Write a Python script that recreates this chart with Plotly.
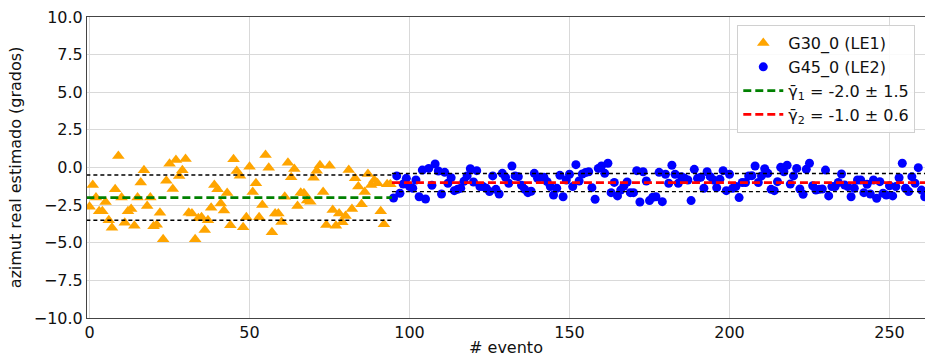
import plotly.graph_objects as go

# Estimated azimuth per event, detector LE1 (G30_0), events 0..94
le1_values = [
    -2.6, -1.16, -2.0, -2.9, -2.9, -2.3, -3.5, -4.0, -1.45, 0.76,
    -2.0, -3.67, -2.9, -2.76, -3.87, -2.0, -1.0, -0.19, -2.56, -2.0,
    -3.9, -3.8, -3.0, -4.77, -0.88, 0.25, -1.43, 0.5, -0.56, -0.19,
    0.56, -3.0, -3.05, -4.77, -3.38, -3.3, -4.15, -3.5, -2.67, -1.16,
    -1.45, -2.4, -2.85, -1.7, -3.84, 0.54, -0.23, -0.54, -3.97, -3.3,
    0.05, -1.63, -1.05, -3.3, -2.49, 0.83, -0.01, -4.31, -3.05, -3.05,
    -3.62, -1.94, 0.32, -0.65, -0.1, -2.56, -1.67, -1.71, -2.2, -2.27,
    -0.68, -0.21, 0.15, -1.63, -3.82, 0.12, -2.82, -3.87, -3.05, -3.64,
    -3.22, -0.17, -2.76, -0.72, -1.27, -2.45, -1.63, -0.43, -1.16, -0.83,
    -1.05, -2.91, -3.77, -1.12, -1.12,
]

# Estimated azimuth per event, detector LE2 (G45_0), events 95..261
le2_values = [
    -2.03, -0.56, -1.71, -1.1, -0.72, -1.27, -1.38, -0.83, -1.94, -0.17,
    -2.09, -0.06, -1.18, 0.23, -0.23, -1.76, -0.32, -1.05, -0.68, -1.54,
    -1.45, -1.38, -0.92, -0.56, -0.08, -0.96, -0.21, -1.27, -1.27, -1.38,
    -1.6, -0.56, -1.45, -1.76, -0.39, -0.65, -1.05, 0.1, -0.56, -0.61,
    -1.18, -1.45, -1.67, -1.58, -0.39, -0.72, -0.65, -0.65, -0.94, -1.27,
    -1.83, -1.38, -0.52, -1.94, -0.83, -0.45, -1.27, 0.19, -0.9, -0.43,
    -0.34, -0.28, -1.34, -2.11, -0.06, 0.1, -0.39, 0.28, -1.67, -0.99,
    -1.89, -1.5, -1.23, -0.96, -1.67, -1.67, -0.21, -2.29, -0.28, -0.9,
    -2.2, -1.98, -1.94, -0.32, -2.27, -0.45, -1.05, 0.15, -0.45, -1.05,
    -0.61, -0.72, -0.83, -2.2, -0.12, -0.72, -0.65, -1.38, -0.28, -0.61,
    -0.83, -1.34, -0.78, -0.21, -1.54, -0.45, -1.38, -1.27, -2.0, -1.0,
    -1.0, -0.56, -0.54, 0.1, -1.0, -0.56, -0.08, -0.39, -1.45, -1.54,
    -0.94, 0.01, -0.28, 0.15, -1.1, -0.56, -0.06, -1.43, -1.78, -0.12,
    0.28, -1.21, -1.5, -1.45, -1.43, -0.17, -1.89, -1.27, -1.27, -1.0,
    -0.43, -1.16, -1.27, -1.94, -1.38, -0.83, -0.83, -1.67, -1.12, -1.76,
    -0.83, -2.05, -0.94, -1.71, -1.83, -1.21, -1.89, -1.27, -0.68, 0.28,
    -1.38, -1.6, -0.61, -1.05, -0.01, -1.5, -1.94,
]

le1_events = list(range(0, len(le1_values)))
le2_events = list(range(len(le1_values), len(le1_values) + len(le2_values)))

series_names = ["G30_0 (LE1)", "G45_0 (LE2)"]
mean_values = [-2.0, -1.0]
std_values = [1.5, 0.6]
# event span covered by each mean/std band
band_spans = [(-1.0, 94.5), (94.5, 262.0)]

x_ticks = [0, 50, 100, 150, 200, 250]
y_ticks = [-10.0, -7.5, -5.0, -2.5, 0.0, 2.5, 5.0, 7.5, 10.0]

FONT = "DejaVu Sans"
fig = go.Figure()

fig.add_trace(go.Scatter(
    x=le1_events, y=le1_values, mode="markers", name=series_names[0],
    marker=dict(symbol="triangle-up", size=11, color="#FFA500", line=dict(width=0)),
))
fig.add_trace(go.Scatter(
    x=le2_events, y=le2_values, mode="markers", name=series_names[1],
    marker=dict(symbol="circle", size=9, color="#0000FF", line=dict(width=0)),
))

mean_colors = ["#008000", "#FF0000"]
for i, (m, s) in enumerate(zip(mean_values, std_values)):
    x0, x1 = band_spans[i]
    for y in (m + s, m - s):
        fig.add_trace(go.Scatter(
            x=[x0, x1], y=[y, y], mode="lines", showlegend=False,
            line=dict(color="black", width=1.4, dash="4px,3px"),
            hoverinfo="skip",
        ))
    fig.add_trace(go.Scatter(
        x=[x0, x1], y=[m, m], mode="lines",
        name=f"γ\u0304<sub>{i + 1}</sub> = {m:.1f} ± {s:.1f}",
        line=dict(color=mean_colors[i], width=2.8, dash="8px,4px"),
    ))

fig.update_layout(
    width=925, height=357,
    margin=dict(l=87, r=0, t=17, b=39, autoexpand=False),
    paper_bgcolor="white", plot_bgcolor="white",
    font=dict(family=FONT, size=16, color="#111"),
    showlegend=True,
    legend=dict(
        x=0.776, y=0.973, xanchor="left", yanchor="top",
        bgcolor="rgba(255,255,255,0.85)", bordercolor="#d0d0d0", borderwidth=1,
        font=dict(family=FONT, size=16, color="#111"),
        traceorder="normal", itemwidth=40,
    ),
)

fig.update_xaxes(
    range=[-0.8, 261.1], tickvals=x_ticks,
    showgrid=True, gridcolor="#d9d9d9", gridwidth=1,
    showline=True, linecolor="#444", linewidth=1, mirror=True,
    ticks="", zeroline=False, tickfont=dict(size=16),
    title=dict(text="# evento", standoff=4, font=dict(size=16)),
)
fig.update_yaxes(
    range=[-10, 10], tickvals=y_ticks, tickformat=".1f",
    showgrid=True, gridcolor="#d9d9d9", gridwidth=1,
    showline=True, linecolor="#444", linewidth=1,
    ticks="", zeroline=False, tickfont=dict(size=16),
    title=dict(text="azimut real estimado (grados)", standoff=8, font=dict(size=16)),
)

fig.write_html("out.html")
